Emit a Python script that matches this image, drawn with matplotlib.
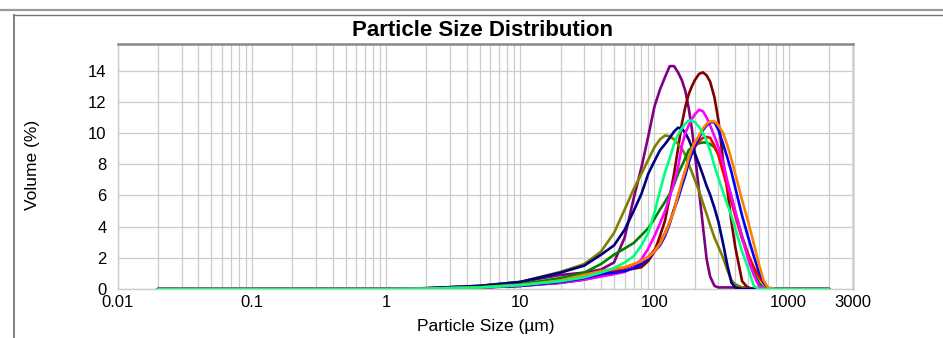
import matplotlib
matplotlib.use("Agg")
import matplotlib.pyplot as plt
from matplotlib.lines import Line2D

plt.rcParams['font.family'] = ['Liberation Sans', 'DejaVu Sans']

# Particle sizes (µm) shared by all series
sizes = [0.02, 1, 2, 5, 10, 20, 30, 40, 50, 60,
         70, 80, 90, 100, 110, 120, 130, 140, 150, 160,
         170, 180, 190, 200, 215, 230, 245, 260, 280, 300,
         325, 350, 375, 400, 450, 500, 550, 600, 650, 700, 800, 2000]

purple = [0, 0, 0.05, 0.2, 0.45, 0.9, 1.05, 1.25, 1.7, 3.3,
          5.8, 7.8, 9.8, 11.7, 12.8, 13.6, 14.3, 14.3, 13.9, 13.4,
          12.7, 11.6, 10.3, 8.7, 6.3, 4.0, 1.9, 0.8, 0.2, 0.1,
          0.1, 0.1, 0.1, 0.1, 0.1, 0.1, 0, 0, 0, 0, 0, 0]
maroon = [0, 0, 0.02, 0.1, 0.2, 0.4, 0.6, 0.85, 1.05, 1.2,
          1.3, 1.4, 1.8, 2.4, 3.4, 4.4, 5.9, 7.4, 9.0, 10.6,
          11.7, 12.5, 13.0, 13.4, 13.8, 13.9, 13.7, 13.3, 12.3, 10.8,
          8.2, 6.3, 4.3, 2.7, 0.5, 0.05, 0, 0, 0, 0, 0, 0]
olive = [0, 0, 0.05, 0.2, 0.45, 1.1, 1.6, 2.4, 3.6, 5.1,
         6.4, 7.4, 8.3, 9.1, 9.6, 9.85, 9.8, 9.6, 9.3, 9.0,
         8.6, 8.0, 7.5, 7.0, 6.3, 5.5, 4.8, 4.1, 3.3, 2.7,
         2.0, 1.2, 0.55, 0.3, 0.1, 0, 0, 0, 0, 0, 0, 0]
navy = [0, 0, 0.05, 0.2, 0.45, 1.05, 1.5, 2.2, 2.8, 3.8,
        5.0, 6.1, 7.4, 8.2, 8.9, 9.3, 9.7, 10.1, 10.35, 10.3,
        10.0, 9.6, 9.1, 8.7, 8.0, 7.3, 6.6, 6.05, 5.2, 4.3,
        2.9, 1.5, 0.4, 0.1, 0, 0, 0, 0, 0, 0, 0, 0]
darkgreen = [0, 0, 0.02, 0.12, 0.3, 0.7, 1.05, 1.6, 2.2, 2.6,
             2.95, 3.45, 3.9, 4.5, 5.1, 5.6, 6.1, 6.7, 7.4, 7.9,
             8.4, 8.9, 9.1, 9.25, 9.35, 9.4, 9.4, 9.3, 9.1, 8.6,
             7.7, 6.8, 5.9, 4.9, 3.4, 2.2, 1.1, 0.4, 0.05, 0, 0, 0]
red = [0, 0, 0.02, 0.1, 0.25, 0.5, 0.8, 1.05, 1.2, 1.35,
       1.55, 1.8, 2.05, 2.5, 2.95, 3.6, 4.3, 5.1, 6.0, 6.8,
       7.6, 8.2, 8.8, 9.1, 9.5, 9.7, 9.75, 9.7, 9.2, 8.6,
       7.5, 6.5, 5.6, 4.7, 3.2, 2.2, 1.4, 0.8, 0.35, 0.05, 0, 0]
magenta = [0, 0, 0.02, 0.1, 0.2, 0.4, 0.6, 0.8, 0.95, 1.1,
           1.35, 1.9, 2.6, 3.4, 4.2, 5.0, 5.9, 6.8, 7.8, 9.2,
           10.0, 10.5, 10.9, 11.2, 11.5, 11.4, 11.0, 10.5, 9.8, 9.1,
           8.1, 6.9, 5.9, 5.0, 3.3, 1.9, 0.9, 0.2, 0, 0, 0, 0]
blue = [0, 0, 0.02, 0.1, 0.2, 0.45, 0.7, 0.95, 1.05, 1.15,
        1.35, 1.6, 1.95, 2.4, 2.8, 3.4, 4.2, 5.1, 5.8, 6.6,
        7.3, 8.1, 8.7, 9.2, 9.7, 10.2, 10.5, 10.7, 10.7, 10.2,
        9.3, 8.4, 7.5, 6.5, 4.7, 3.3, 2.1, 1.1, 0.45, 0.05, 0, 0]
orange = [0, 0, 0.02, 0.1, 0.25, 0.55, 0.9, 1.15, 1.3, 1.4,
          1.6, 1.8, 2.05, 2.4, 2.9, 3.55, 4.3, 5.0, 6.0, 6.9,
          7.6, 8.4, 9.0, 9.4, 9.85, 10.3, 10.6, 10.75, 10.75, 10.5,
          10.0, 9.2, 8.3, 7.4, 5.7, 4.3, 2.9, 1.6, 0.55, 0.1, 0, 0]
springgreen = [0, 0, 0.02, 0.1, 0.25, 0.5, 0.75, 1.05, 1.35, 1.7,
               2.1, 2.8, 3.6, 4.9, 6.3, 7.5, 8.4, 9.3, 9.9, 10.3,
               10.6, 10.8, 10.8, 10.7, 10.4, 10.0, 9.5, 8.9, 7.9, 7.1,
               6.2, 5.4, 4.7, 3.9, 2.4, 1.3, 0.2, 0, 0, 0, 0, 0]

series = [
    (purple, '#800080'),
    (maroon, '#800000'),
    (olive, '#808000'),
    (navy, '#000080'),
    (darkgreen, '#008000'),
    (red, '#FF0000'),
    (magenta, '#FF00FF'),
    (blue, '#0000FF'),
    (orange, '#FF8000'),
    (springgreen, '#00FF7F'),
]

xticks = [0.01, 0.1, 1, 10, 100, 1000, 3000]
xticklabels = ['0.01', '0.1', '1', '10', '100', '1000', '3000']
yticks = [0, 2, 4, 6, 8, 10, 12, 14]

W, H = 943, 338
fig = plt.figure(figsize=(W / 100, H / 100), dpi=100)
fig.patch.set_facecolor('white')

ax = fig.add_axes([117.5 / W, 1 - 289 / H, (852.7 - 117.5) / W, (289 - 44) / H])
for vals, col in series:
    ax.plot(sizes, vals, color=col, lw=1.9, solid_joinstyle='round', solid_capstyle='round', zorder=3)

ax.set_xscale('log')
ax.set_xlim(0.01, 3000)
ax.set_ylim(0, 15.72)
ax.set_xticks(xticks)
ax.set_xticklabels(xticklabels)
ax.set_yticks(yticks)
ax.xaxis.set_minor_locator(matplotlib.ticker.LogLocator(base=10, subs=range(2, 10), numticks=20))
ax.xaxis.set_minor_formatter(matplotlib.ticker.NullFormatter())
ax.grid(True, which='both', axis='x', color='#cccccc', lw=0.9, zorder=0)
ax.grid(True, which='major', axis='y', color='#cccccc', lw=0.9, zorder=0)
ax.tick_params(axis='both', which='both', length=0, labelsize=12, colors='black')
ax.tick_params(axis='y', pad=8)
ax.tick_params(axis='x', pad=4)

ax.spines['left'].set_color('#cccccc')
ax.spines['bottom'].set_color('#cccccc')
ax.spines['left'].set_linewidth(1)
ax.spines['bottom'].set_linewidth(1)
ax.spines['top'].set_color('#888888')
ax.spines['top'].set_linewidth(1.8)
ax.spines['right'].set_color('#d0d0d0')
ax.spines['right'].set_linewidth(1.8)

fig.text(483 / W, 1 - 31 / H, 'Particle Size Distribution', ha='center', va='center',
         fontsize=16, fontweight='bold')
fig.text(486 / W, 1 - 326 / H, 'Particle Size (µm)', ha='center', va='center', fontsize=12.5)
fig.text(32 / W, 1 - 165 / H, 'Volume (%)', ha='center', va='center', fontsize=12.5, rotation=90)

# outer frame lines
fig.add_artist(Line2D([0, 1], [1 - 10 / H, 1 - 10 / H], color='#999999', lw=1.6, transform=fig.transFigure))
fig.add_artist(Line2D([14 / W, 1], [1 - 15 / H, 1 - 15 / H], color='#707070', lw=1.0, transform=fig.transFigure))
fig.add_artist(Line2D([14 / W, 14 / W], [0, 1 - 15 / H], color='#808080', lw=1.4, transform=fig.transFigure))

fig.savefig('out.png', dpi=100)
